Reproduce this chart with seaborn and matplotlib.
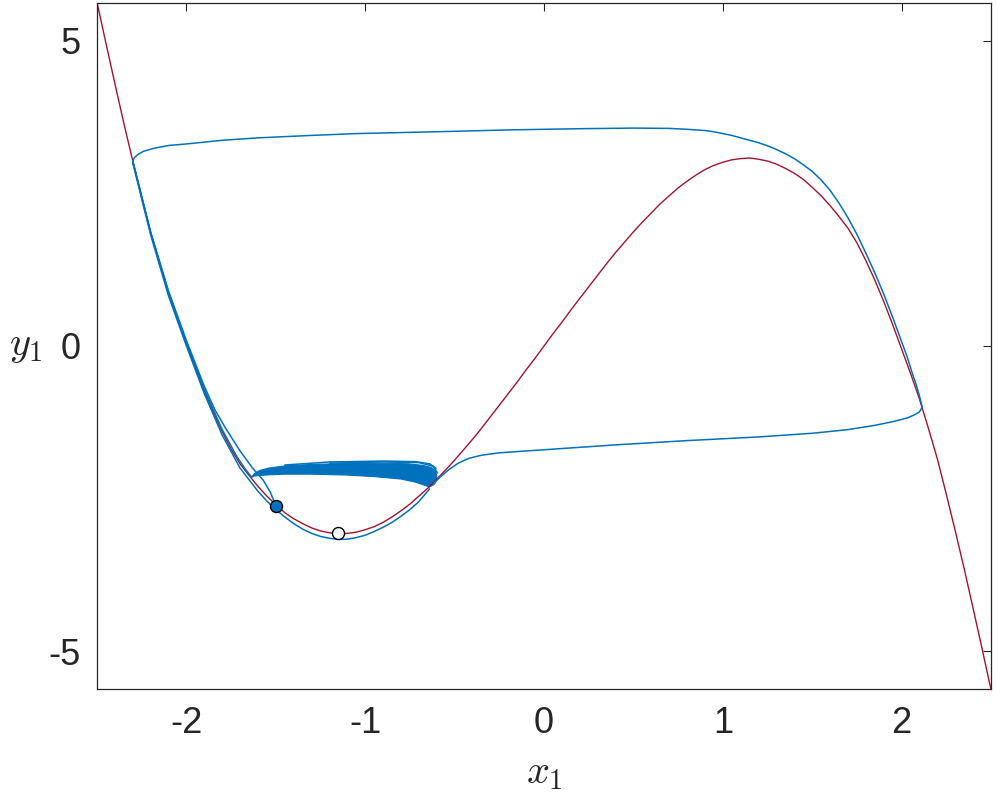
import matplotlib

matplotlib.use("Agg")
import matplotlib.pyplot as plt
import pandas as pd
import seaborn as sns

# red curve (y1-nullcline)
curve_x = [-2.50, -2.45, -2.40, -2.35, -2.30, -2.25, -2.20, -2.15, -2.10, -2.05,
           -2.00, -1.95, -1.90, -1.85, -1.80, -1.75, -1.70, -1.65, -1.60, -1.55,
           -1.50, -1.45, -1.40, -1.35, -1.30, -1.25, -1.20, -1.15, -1.10, -1.05,
           -1.00, -0.95, -0.90, -0.85, -0.80, -0.75, -0.70, -0.65, -0.60, -0.55,
           -0.50, -0.45, -0.40, -0.35, -0.30, -0.25, -0.20, -0.15, -0.10, -0.05,
           0.00, 0.05, 0.10, 0.15, 0.20, 0.25, 0.30, 0.35, 0.40, 0.45,
           0.50, 0.55, 0.60, 0.65, 0.70, 0.75, 0.80, 0.85, 0.90, 0.95,
           1.00, 1.05, 1.10, 1.15, 1.20, 1.25, 1.30, 1.35, 1.40, 1.45,
           1.50, 1.55, 1.60, 1.65, 1.70, 1.75, 1.80, 1.85, 1.90, 1.95,
           2.00, 2.05, 2.10, 2.15, 2.20, 2.25, 2.30, 2.35, 2.40, 2.45, 2.50]
curve_y = [5.63, 4.96, 4.30, 3.65, 3.03, 2.43, 1.85, 1.35, 0.87, 0.45,
           0.05, -0.35, -0.73, -1.08, -1.40, -1.69, -1.93, -2.12, -2.30, -2.46,
           -2.60, -2.73, -2.83, -2.91, -2.98, -3.03, -3.06, -3.08, -3.07, -3.05,
           -3.01, -2.96, -2.89, -2.80, -2.70, -2.59, -2.46, -2.33, -2.18, -2.03,
           -1.87, -1.70, -1.53, -1.35, -1.16, -0.97, -0.78, -0.59, -0.39, -0.20,
           0.00, 0.20, 0.39, 0.59, 0.78, 0.97, 1.16, 1.35, 1.53, 1.70,
           1.87, 2.03, 2.18, 2.33, 2.46, 2.59, 2.70, 2.80, 2.89, 2.96,
           3.01, 3.05, 3.07, 3.08, 3.06, 3.03, 2.98, 2.91, 2.83, 2.73,
           2.60, 2.46, 2.30, 2.12, 1.93, 1.69, 1.40, 1.08, 0.73, 0.35,
           -0.05, -0.45, -0.87, -1.35, -1.85, -2.43, -3.03, -3.65, -4.30, -4.96, -5.63]

# blue trajectory, piece by piece
top_x = [-2.30, -2.29, -2.27, -2.24, -2.18, -2.10, -2.00, -1.80, -1.60, -1.30,
         -1.05, -0.60, -0.20, 0.20, 0.50, 0.70, 0.80, 0.90, 0.95, 1.00,
         1.05, 1.10, 1.15, 1.20, 1.25, 1.30, 1.35, 1.40, 1.45, 1.50,
         1.55, 1.60, 1.65, 1.70, 1.75, 1.80, 1.85, 1.90, 1.95, 2.00,
         2.03, 2.06, 2.08, 2.10, 2.115]
top_y = [3.03, 3.09, 3.14, 3.19, 3.24, 3.285, 3.31, 3.37, 3.41, 3.45,
         3.48, 3.51, 3.54, 3.56, 3.57, 3.565, 3.55, 3.53, 3.51, 3.48,
         3.45, 3.41, 3.37, 3.33, 3.28, 3.22, 3.15, 3.07, 2.97, 2.86,
         2.72, 2.55, 2.34, 2.10, 1.83, 1.52, 1.20, 0.85, 0.47, 0.07,
         -0.17, -0.45, -0.62, -0.82, -1.00]

bottom_x = [2.115, 2.10, 2.07, 2.03, 1.95, 1.85, 1.70, 1.50, 1.20, 0.80,
            0.40, 0.10, -0.10, -0.25, -0.35, -0.42, -0.48, -0.53, -0.57, -0.60, -0.62]
bottom_y = [-1.00, -1.08, -1.13, -1.18, -1.24, -1.30, -1.37, -1.43, -1.49, -1.55,
            -1.62, -1.68, -1.72, -1.75, -1.79, -1.84, -1.92, -2.02, -2.12, -2.20, -2.26]

outer_x = [-2.30, -2.20, -2.10, -2.00, -1.90, -1.80, -1.70, -1.60, -1.55, -1.50,
           -1.45, -1.40, -1.35, -1.30, -1.25, -1.20, -1.15, -1.10, -1.05, -1.00,
           -0.95, -0.90, -0.85, -0.80, -0.75, -0.70, -0.64]
outer_y = [3.00, 1.82, 0.82, 0.00, -0.78, -1.46, -2.00, -2.38, -2.54, -2.68,
           -2.80, -2.91, -3.00, -3.07, -3.12, -3.15, -3.17, -3.165, -3.14, -3.10,
           -3.04, -2.97, -2.89, -2.79, -2.68, -2.55, -2.34]

feed_x = [-2.30, -2.20, -2.10, -2.00, -1.90, -1.80, -1.72, -1.67, -1.635]
feed_y = [3.03, 1.86, 0.88, 0.06, -0.71, -1.37, -1.80, -2.02, -2.15]

inner_x = [-2.30, -2.20, -2.10, -2.00, -1.90, -1.84, -1.78, -1.70, -1.63, -1.57, -1.53, -1.50]
inner_y = [3.03, 1.87, 0.90, 0.09, -0.66, -1.05, -1.35, -1.72, -2.00, -2.20, -2.40, -2.615]

stripe1_x = [-1.45, -1.20, -0.90, -0.72, -0.64, -0.605, -0.615]
stripe1_y = [-1.95, -1.90, -1.885, -1.895, -1.93, -2.00, -2.10]
stripe2_x = [-1.20, -0.90, -0.70, -0.62, -0.595]
stripe2_y = [-1.92, -1.90, -1.91, -1.97, -2.08]

# thick band of small loops (outline)
band_top_x = [-1.635, -1.62, -1.59, -1.54, -1.45, -1.30, -1.10, -0.90, -0.76, -0.68, -0.63, -0.605, -0.60]
band_top_y = [-2.15, -2.09, -2.04, -2.00, -1.965, -1.94, -1.925, -1.92, -1.93, -1.955, -1.99, -2.05, -2.13]
band_bot_x = [-0.60, -0.615, -0.64, -0.67, -0.72, -0.80, -0.95, -1.10, -1.30, -1.45, -1.56, -1.62, -1.635]
band_bot_y = [-2.20, -2.27, -2.31, -2.28, -2.23, -2.18, -2.14, -2.115, -2.10, -2.10, -2.115, -2.13, -2.15]

# equilibrium markers
filled_pt = (-1.50, -2.615)
open_pt = (-1.15, -3.07)

xticks = [-2, -1, 0, 1, 2]
yticks = [-5, 0, 5]

BLUE = (0.0, 0.447, 0.741)
RED = (0.635, 0.078, 0.184)
DARK = "#262626"

sns.set_style("white")
plt.rcParams["font.family"] = ["Liberation Sans", "DejaVu Sans"]
plt.rcParams["mathtext.fontset"] = "cm"
plt.rcParams["axes.unicode_minus"] = False

fig = plt.figure(figsize=(9.96, 8.01), dpi=100)
ax = fig.add_axes([0.0974, 0.1398, 0.8976, 0.8565])

sns.lineplot(x=curve_x, y=curve_y, sort=False, estimator=None, color=RED, lw=1.0, ax=ax)

pieces = {
    "top": (top_x, top_y),
    "bottom": (bottom_x, bottom_y),
    "outer": (outer_x, outer_y),
    "feed": (feed_x, feed_y),
    "inner": (inner_x, inner_y),
    "stripe1": (stripe1_x, stripe1_y),
    "stripe2": (stripe2_x, stripe2_y),
}
rows = []
for name, (xs, ys) in pieces.items():
    for i, (px, py) in enumerate(zip(xs, ys)):
        rows.append({"piece": name, "i": i, "x": px, "y": py})
traj = pd.DataFrame(rows)
sns.lineplot(data=traj, x="x", y="y", units="piece", estimator=None, sort=False,
             color=BLUE, lw=1.1, ax=ax)

ax.fill(band_top_x + band_bot_x, band_top_y + band_bot_y, color=BLUE, lw=0.8,
        edgecolor=BLUE)

sns.scatterplot(x=[filled_pt[0]], y=[filled_pt[1]], s=75, color=BLUE,
                edgecolor="black", linewidth=1.0, zorder=5, ax=ax)
sns.scatterplot(x=[open_pt[0]], y=[open_pt[1]], s=75, color="white",
                edgecolor="black", linewidth=1.0, zorder=5, ax=ax)

ax.set_xlim(-2.5, 2.5)
ax.set_ylim(-5.62, 5.62)
ax.set_xticks(xticks)
ax.set_yticks(yticks)
ax.tick_params(direction="in", length=6, width=0.8, top=True, right=True,
               labelsize=26, colors=DARK, pad=12)
for sp in ax.spines.values():
    sp.set_color(DARK)
    sp.set_linewidth(0.9)

ax.set_xlabel(r"$x_1$", fontsize=29, color=DARK)
ax.xaxis.set_label_coords(0.5, -0.095)
ax.set_ylabel(r"$y_1$", fontsize=29, color=DARK, rotation=0, va="center", ha="center")
ax.yaxis.set_label_coords(-0.08, 0.5)

fig.savefig("out.png", dpi=100)
